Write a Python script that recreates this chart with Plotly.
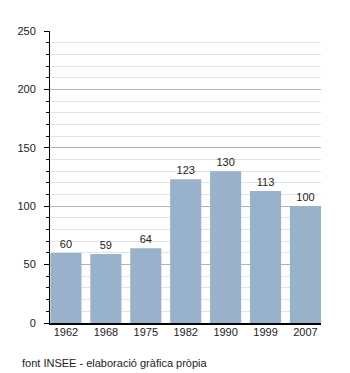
import plotly.graph_objects as go

# Census years and population counts
years = ["1962", "1968", "1975", "1982", "1990", "1999", "2007"]
population = [60, 59, 64, 123, 130, 113, 100]
y_ticks = [0, 50, 100, 150, 200, 250]

BAR_COLOR = "#99b2cc"
FONT = "Liberation Sans, Arial, sans-serif"

fig = go.Figure(
    go.Bar(
        x=list(range(len(years))),
        y=population,
        width=0.78,
        marker=dict(color=BAR_COLOR, line=dict(width=0)),
        text=[str(v) for v in population],
        textposition="outside",
        textfont=dict(family=FONT, size=11, color="#222222"),
        cliponaxis=False,
    )
)

fig.update_layout(
    width=350,
    height=373,
    margin=dict(l=50, r=29, t=31, b=50),
    paper_bgcolor="white",
    plot_bgcolor="white",
    showlegend=False,
    font=dict(family=FONT, size=11, color="#222222"),
    bargap=0.22,
    annotations=[
        dict(
            text="font INSEE - elaboració gràfica pròpia",
            xref="paper", yref="paper",
            x=-30 / 271, y=-40 / 292,
            xanchor="left", yanchor="middle",
            showarrow=False,
            font=dict(family=FONT, size=11, color="#222222"),
        )
    ],
)

fig.update_xaxes(
    range=[-0.4, 6.39],
    tickmode="array",
    tickvals=list(range(len(years))),
    ticktext=years,
    showgrid=False,
    showline=True,
    linecolor="black",
    linewidth=1.5,
    ticks="",
    ticklabelstandoff=-2,
    zeroline=False,
    fixedrange=True,
)

fig.update_yaxes(
    range=[0, 250],
    tickmode="array",
    tickvals=y_ticks,
    showgrid=True,
    gridcolor="#b3b3b3",
    gridwidth=1,
    showline=True,
    linecolor="black",
    linewidth=1,
    ticks="outside",
    ticklen=5,
    tickcolor="black",
    ticklabelstandoff=6,
    zeroline=False,
    minor=dict(
        dtick=10,
        ticks="outside",
        ticklen=3,
        tickcolor="black",
        showgrid=True,
        gridcolor="#e3e3e3",
        gridwidth=1,
    ),
    fixedrange=True,
)

fig.write_html("out.html")
